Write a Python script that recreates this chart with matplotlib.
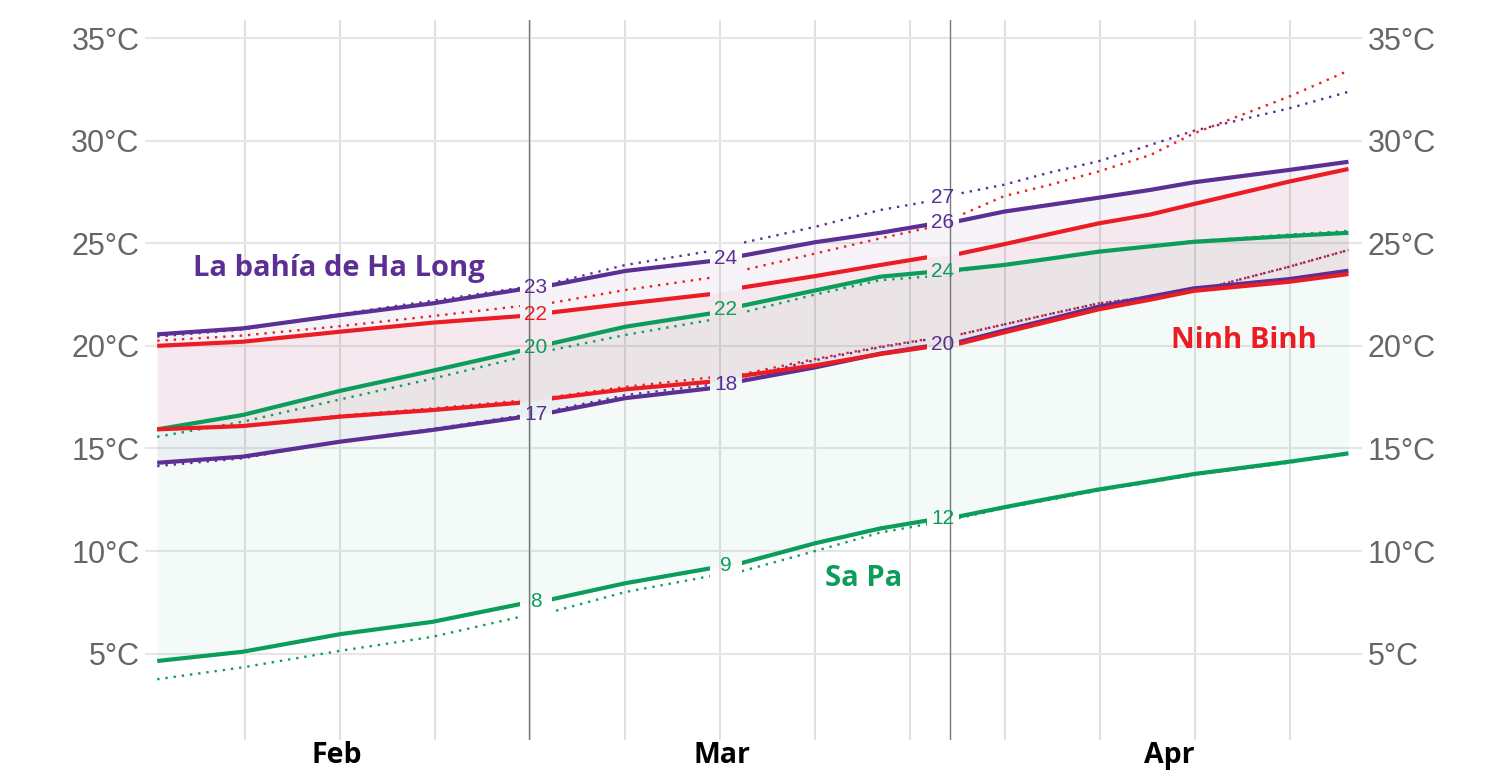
import numpy as np
import matplotlib
matplotlib.use("Agg")
import matplotlib.pyplot as plt
from matplotlib.patches import Rectangle

# days from the left end of the series (about 1 Feb)
days = [0, 6.3, 13.5, 20.3, 26.8, 29.1, 34.5, 40.8, 43.0, 48.5, 53.3, 56.7, 59.2, 62.4, 65.8, 69.4, 73.2, 76.4, 83.4, 87.8]

# La bahia de Ha Long
halong_hi = [20.56, 20.85, 21.5, 22.07, 22.75, 22.96, 23.65, 24.13, 24.38, 25.05, 25.51, 25.89, 26.1, 26.54, 26.87, 27.22, 27.6, 27.97, 28.57, 28.97]
halong_lo = [14.3, 14.6, 15.33, 15.9, 16.52, 16.76, 17.45, 17.93, 18.28, 18.95, 19.62, 19.97, 20.2, 20.74, 21.3, 21.91, 22.4, 22.8, 23.25, 23.66]
halong_hi_dot = [20.45, 20.8, 21.55, 22.2, 22.83, 23.05, 23.94, 24.62, 25.0, 25.8, 26.62, 27.02, 27.43, 27.85, 28.45, 29.0, 29.79, 30.48, 31.57, 32.38]
halong_lo_dot = [14.14, 14.52, 15.35, 15.95, 16.6, 16.85, 17.6, 18.1, 18.45, 19.3, 19.93, 20.3, 20.56, 21.04, 21.55, 22.07, 22.39, 22.65, 23.85, 24.67]

# Ninh Binh
ninh_hi = [20.0, 20.2, 20.69, 21.13, 21.45, 21.63, 22.05, 22.52, 22.83, 23.4, 23.94, 24.31, 24.5, 24.95, 25.45, 25.97, 26.4, 26.91, 28.0, 28.62]
ninh_lo = [15.93, 16.09, 16.55, 16.87, 17.23, 17.44, 17.88, 18.25, 18.53, 19.05, 19.6, 19.93, 20.12, 20.65, 21.2, 21.78, 22.25, 22.68, 23.12, 23.5]
ninh_hi_dot = [20.25, 20.5, 20.96, 21.45, 21.94, 22.1, 22.72, 23.32, 23.66, 24.5, 25.24, 25.73, 26.37, 27.29, 27.85, 28.5, 29.3, 30.35, 32.14, 33.41]
ninh_lo_dot = [15.95, 16.12, 16.6, 16.95, 17.33, 17.5, 18.0, 18.46, 18.6, 19.36, 19.96, 20.32, 20.56, 21.04, 21.55, 22.07, 22.39, 22.65, 23.85, 24.67]

# Sa Pa
sapa_hi = [15.93, 16.63, 17.81, 18.79, 19.76, 20.12, 20.93, 21.58, 21.94, 22.7, 23.37, 23.58, 23.72, 23.94, 24.25, 24.59, 24.85, 25.07, 25.35, 25.51]
sapa_lo = [4.64, 5.09, 5.95, 6.55, 7.42, 7.65, 8.43, 9.16, 9.4, 10.38, 11.1, 11.48, 11.7, 12.13, 12.56, 13.0, 13.4, 13.75, 14.35, 14.76]
sapa_hi_dot = [15.57, 16.3, 17.39, 18.4, 19.44, 19.8, 20.53, 21.26, 21.6, 22.5, 23.2, 23.37, 23.65, 23.95, 24.27, 24.6, 24.87, 25.1, 25.42, 25.6]
sapa_lo_dot = [3.75, 4.33, 5.14, 5.82, 6.8, 7.04, 8.0, 8.78, 9.0, 10.0, 10.9, 11.3, 11.62, 12.08, 12.5, 12.95, 13.35, 13.7, 14.3, 14.72]

# value labels sit in gaps cut into every line
label_days = [27.9, 41.9, 57.9]
halong_hi_lbl = ["23", "24", "26"]
halong_lo_lbl = ["17", "18", "20"]
halong_hi_dot_lbl = [None, None, "27"]
ninh_hi_lbl = ["22", None, None]
sapa_hi_lbl = ["20", "22", "24"]
sapa_lo_lbl = ["8", "9", "12"]

month_days = [13.2, 41.6, 74.6]
month_names = ["Feb", "Mar", "Apr"]
week_days = [6.5 + 7 * i for i in range(12)]
marker_days = [27.4, 58.4]
y_ticks = [5, 10, 15, 20, 25, 30, 35]

PURPLE = "#5b2f93"
RED = "#ec1c24"
GREEN = "#0b9d5a"
gap_half = 1.18

fig = plt.figure(figsize=(15.06, 7.74), dpi=100)
ax = fig.add_axes([145 / 1506, 34 / 774, 1217 / 1506, 720 / 774])
ax.set_xlim(-0.9, 88.8)
ax.set_ylim(0.79, 35.88)

for s in ax.spines.values():
    s.set_visible(False)

ax.set_yticks(y_ticks, [f"{t}°C" for t in y_ticks])
ax.set_xticks(month_days, month_names)
ax.set_xticks(week_days, minor=True)
ax.tick_params(axis="y", length=0, pad=4, labelsize=22, labelcolor="#666666",
               labelleft=True, labelright=True)
ax.tick_params(axis="x", which="both", length=0, pad=1)
for lab in ax.get_yticklabels():
    lab.set_family("Liberation Sans")
for lab in ax.get_xticklabels():
    lab.set_family("Open Sans")
    lab.set_fontweight("bold")
    lab.set_fontsize(20.5)
    lab.set_color("black")
ax.grid(axis="y", which="major", color="#e6e6e6", lw=1.5)
ax.grid(axis="x", which="minor", color="#e0e0e0", lw=1.5)
ax.set_axisbelow(True)
for d in marker_days:
    ax.axvline(d, color="#7a7a7a", lw=1.0, zorder=1)

ax.fill_between(days, halong_lo, halong_hi, color=PURPLE, alpha=0.05, lw=0, zorder=1)
ax.fill_between(days, ninh_lo, ninh_hi, color=RED, alpha=0.05, lw=0, zorder=1)
ax.fill_between(days, sapa_lo, sapa_hi, color=GREEN, alpha=0.045, lw=0, zorder=1)

edges = [-5]
for g in label_days:
    edges += [g - gap_half, g + gap_half]
edges.append(95)


def draw(vals, color, dotted=False):
    for a, b in zip(edges[::2], edges[1::2]):
        if dotted:
            ln, = ax.plot(days, vals, color=color, lw=1.7, ls=(0, (1, 2.5)), zorder=3)
        else:
            ln, = ax.plot(days, vals, color=color, lw=3.0, solid_capstyle="butt",
                          solid_joinstyle="round", zorder=4)
        ln.set_clip_path(Rectangle((a, -10), b - a, 60, transform=ax.transData))


def labels(vals, texts, color):
    for d, t in zip(label_days, texts):
        if t is None:
            continue
        ax.text(d, np.interp(d, days, vals), t, color=color, fontsize=15,
                family="Liberation Sans", ha="center", va="center", zorder=5)


draw(sapa_lo_dot, GREEN, True)
draw(sapa_hi_dot, GREEN, True)
draw(ninh_lo_dot, RED, True)
draw(ninh_hi_dot, RED, True)
draw(halong_lo_dot, PURPLE, True)
draw(halong_hi_dot, PURPLE, True)
draw(sapa_lo, GREEN)
draw(sapa_hi, GREEN)
draw(halong_lo, PURPLE)
draw(ninh_lo, RED)
draw(halong_hi, PURPLE)
draw(ninh_hi, RED)

labels(halong_hi, halong_hi_lbl, PURPLE)
labels(halong_lo, halong_lo_lbl, PURPLE)
labels(halong_hi_dot, halong_hi_dot_lbl, PURPLE)
labels(ninh_hi, ninh_hi_lbl, RED)
labels(sapa_hi, sapa_hi_lbl, GREEN)
labels(sapa_lo, sapa_lo_lbl, GREEN)

name_style = dict(fontsize=21, family="Open Sans", fontweight="bold",
                  ha="center", va="center", zorder=6)
ax.text(13.4, 23.79, "La bahía de Ha Long", color=PURPLE, **name_style)
ax.text(80.1, 20.28, "Ninh Binh", color=RED, **name_style)
ax.text(52.1, 8.68, "Sa Pa", color=GREEN, **name_style)

fig.savefig("out.png", dpi=100, facecolor="white")
